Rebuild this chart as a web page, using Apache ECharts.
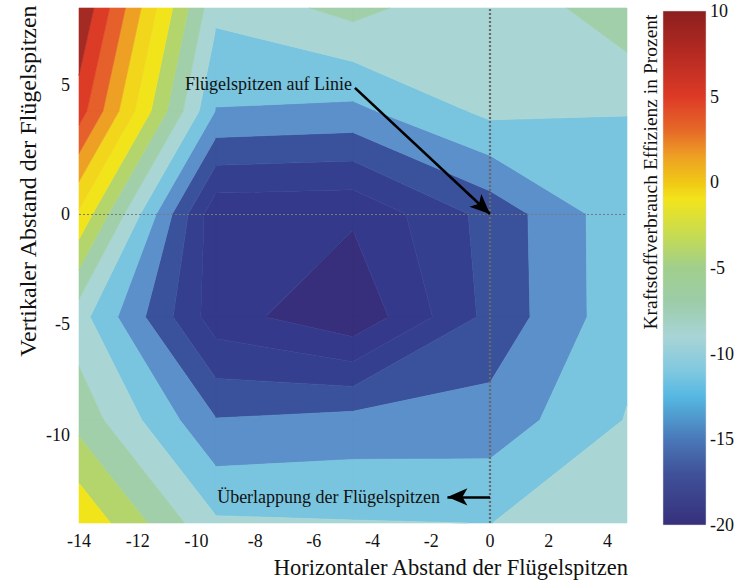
<!DOCTYPE html>
<html><head><meta charset="utf-8">
<script src="https://cdn.jsdelivr.net/npm/echarts@6/dist/echarts.min.js"></script>
<style>html,body{margin:0;padding:0;background:#fff}#c{width:737px;height:581px}</style>
</head><body><div id="c"></div>
<script>
// ---- data (grid nodes of the contour plot) ----
const xNodes = [-14, -9.333, -4.667, 0, 4.667];
const yNodes = [8, 4, 0, -4.667, -9.333, -14];
const zAtY8    = [9.9, -7.5, -5.3, -7.9, -4.5];
const zAtY4    = [7.0, -10.1, -10.5, -7.5, -7.97];
const zAtY0    = [-0.3, -17.5, -17.7, -13.3, -8.6];
const zAtYm4   = [-7.2, -17.1, -19.6, -13.4, -8.6];
const zAtYm9   = [-4.7, -11.9, -11.3, -11.2, -7.9];
const zAtYm14  = [-0.3, -7.7, -7.9, -8.02, -7.0];
const zRows = [zAtY8, zAtY4, zAtY0, zAtYm4, zAtYm9, zAtYm14];

const levels = [-20, -18, -16, -14, -12, -10, -8, -6, -4, -2, 0, 2, 4, 6, 8, 10];
const bandColors = ['#372f7b', '#34398b', '#34408f', '#3a519b', '#5c90ca', '#79c5df', '#a9d6d4',
  '#a0cfa9', '#b3d56b', '#f2e41b', '#f2d61c', '#eea024', '#e5602a', '#dc3c26', '#a42a24'];

const xTickStep = 2;
const yTickLabels = [5, 0, -5, -10];
const cbTicks = [10, 5, 0, -5, -10, -15, -20];
const cbStopValues = [10, 7.5, 5, 3, 1.5, 0, -1, -3, -5, -7, -9, -11, -12.5, -15, -17, -20];
const cbStopColors = ['#8c1f1f', '#b52a22', '#dd3a26', '#e66a28', '#eea024', '#f0c814', '#f2e41c',
  '#c8dc50', '#a0cf8c', '#9ccca8', '#a8d4d6', '#80c8e0', '#55b8e2', '#4a78b8', '#3f5199', '#37307c'];

const annotations = [
  {text: 'Flügelspitzen auf Linie', textAt: [-4.7, 5.05], from: [-4.6, 4.9], to: [0, 0]},
  {text: 'Überlappung der Flügelspitzen', textAt: [-1.7, -12.82], from: [0, -12.82], to: [-1.45, -12.82]}
];

// the reference's vertical axis is stretched differently above and below zero
function yDisp(y) { return y >= 0 ? y : y * 12 / 14; }
function yReal(d) { return d >= 0 ? d : d * 14 / 12; }

const FONT = 'Liberation Serif';

// cells of the grid
const cells = [];
for (let j = 0; j < yNodes.length - 1; j++) for (let i = 0; i < xNodes.length - 1; i++) cells.push([i, j]);

function clip(poly, t, above) {
  const out = [];
  for (let k = 0; k < poly.length; k++) {
    const P = poly[k], Q = poly[(k + 1) % poly.length];
    const pin = above ? P.v >= t : P.v <= t;
    const qin = above ? Q.v >= t : Q.v <= t;
    if (pin) out.push(P);
    if (pin !== qin) {
      const f = (t - P.v) / (Q.v - P.v);
      out.push({x: P.x + f * (Q.x - P.x), y: P.y + f * (Q.y - P.y), v: t});
    }
  }
  return out;
}

function renderCell(params, api) {
  const i = api.value(0), j = api.value(1);
  const corner = (ci, rj) => {
    const p = api.coord([xNodes[ci], yDisp(yNodes[rj])]);
    return {x: p[0], y: p[1], v: zRows[rj][ci]};
  };
  const sq = [corner(i, j), corner(i + 1, j), corner(i + 1, j + 1), corner(i, j + 1)];
  const children = [];
  for (let b = 0; b < bandColors.length; b++) {
    let poly = clip(sq, levels[b], true);
    if (poly.length < 3) continue;
    poly = clip(poly, levels[b + 1], false);
    if (poly.length < 3) continue;
    children.push({
      type: 'polygon',
      shape: {points: poly.map(p => [p.x, p.y])},
      style: {fill: bandColors[b], stroke: bandColors[b], lineWidth: 0.6}
    });
  }
  return {type: 'group', children};
}

function renderColorbar(params, api) {
  const p0 = api.coord([0, cbTicks[0]]);
  const p1 = api.coord([1, cbTicks[cbTicks.length - 1]]);
  const top = cbStopValues[0], bottom = cbStopValues[cbStopValues.length - 1];
  const stops = cbStopValues.map((v, k) => ({offset: (top - v) / (top - bottom), color: cbStopColors[k]}));
  return {
    type: 'rect',
    shape: {x: p0[0], y: p0[1], width: p1[0] - p0[0], height: p1[1] - p0[1]},
    style: {fill: new echarts.graphic.LinearGradient(0, 0, 0, 1, stops), stroke: '#d8d8d8', lineWidth: 0.5}
  };
}

const chart = echarts.init(document.getElementById('c'), null, {renderer: 'svg'});
const labelStyle = {fontFamily: FONT, fontSize: 18, color: '#111'};

chart.setOption({
  animation: false,
  backgroundColor: '#fff',
  textStyle: {fontFamily: FONT},
  grid: [
    {left: 79, top: 8, width: 548, height: 515},
    {left: 663, top: 11, width: 44, height: 514}
  ],
  xAxis: [
    {
      type: 'value', gridIndex: 0, min: -14, max: 4.667, interval: xTickStep,
      axisLine: {show: false}, axisTick: {show: false}, splitLine: {show: false},
      axisLabel: Object.assign({margin: 9, formatter: v => Math.abs(v - Math.round(v)) < 1e-6 ? String(Math.round(v)) : ''}, labelStyle)
    },
    {type: 'value', gridIndex: 1, min: 0, max: 1, show: false}
  ],
  yAxis: [
    {
      type: 'value', gridIndex: 0, min: -12, max: 8,
      axisLine: {show: false}, axisTick: {show: false}, splitLine: {show: false},
      axisLabel: Object.assign({
        margin: 9,
        customValues: yTickLabels.map(yDisp),
        formatter: v => String(Math.round(yReal(v)))
      }, labelStyle)
    },
    {
      type: 'value', gridIndex: 1, min: -20, max: 10, interval: 5, position: 'right',
      axisLine: {show: false}, axisTick: {show: false}, splitLine: {show: false},
      axisLabel: Object.assign({margin: 4}, labelStyle)
    }
  ],
  series: [
    {
      type: 'custom', xAxisIndex: 0, yAxisIndex: 0, z: 1, silent: true,
      renderItem: renderCell, data: cells
    },
    {
      type: 'custom', xAxisIndex: 1, yAxisIndex: 1, z: 1, silent: true,
      renderItem: renderColorbar, data: [[0, 0]]
    },
    {
      type: 'scatter', xAxisIndex: 0, yAxisIndex: 0, z: 5, data: [], silent: true,
      markLine: {
        silent: true, symbol: 'none', animation: false,
        label: {show: false},
        data: [
          {xAxis: 0, lineStyle: {type: [2, 2], color: '#6a6a6a', width: 2.2}},
          {yAxis: yDisp(0), lineStyle: {type: [2, 2], color: '#7a7a7a', width: 1.2}}
        ]
      }
    },
    {
      type: 'scatter', xAxisIndex: 0, yAxisIndex: 0, z: 6, data: [], silent: true,
      markLine: {
        silent: true, animation: false,
        symbol: ['none', 'arrow'], symbolSize: [13, 20],
        label: {show: false},
        lineStyle: {color: '#000', width: 2.6, type: 'solid'},
        data: annotations.map(a => [
          {coord: [a.from[0], yDisp(a.from[1])]},
          {coord: [a.to[0], yDisp(a.to[1])]}
        ])
      },
      markPoint: {
        silent: true, animation: false, symbol: 'circle', symbolSize: 0,
        label: {show: true, position: 'left', distance: 0, fontFamily: FONT, fontSize: 18, color: '#111'},
        data: annotations.map(a => ({coord: [a.textAt[0], yDisp(a.textAt[1])], label: {formatter: a.text}}))
      }
    }
  ],
  graphic: [
    {type: 'text', x: 28, y: 181, rotation: Math.PI / 2,
     style: {text: 'Vertikaler Abstand der Flügelspitzen', fontFamily: FONT, fontSize: 24, fill: '#111', align: 'center', verticalAlign: 'middle'}},
    {type: 'text', x: 628, y: 567,
     style: {text: 'Horizontaler Abstand der Flügelspitzen', fontFamily: FONT, fontSize: 22.5, fill: '#111', align: 'right', verticalAlign: 'middle'}},
    {type: 'text', x: 650, y: 172, rotation: Math.PI / 2,
     style: {text: 'Kraftstoffverbrauch Effizienz in Prozent', fontFamily: FONT, fontSize: 19.5, fill: '#111', align: 'center', verticalAlign: 'middle'}}
  ]
});
</script></body></html>
